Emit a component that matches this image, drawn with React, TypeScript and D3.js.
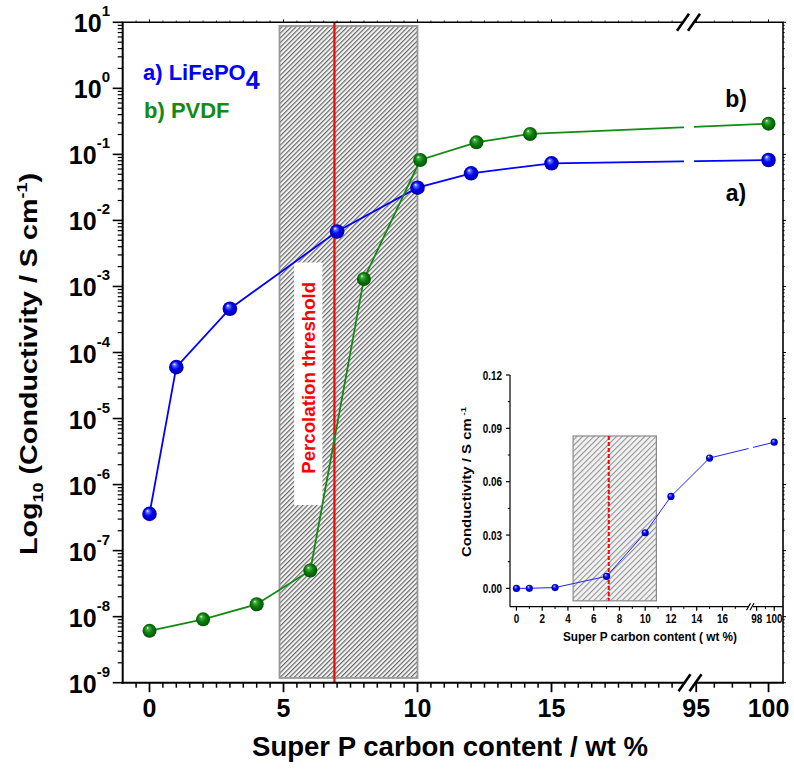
import React from 'react';
import * as d3 from 'd3';

// ---------- data ----------
const lifepoX = [0, 1, 3, 7, 10, 12, 15, 100];
const lifepoY = [3.6e-7, 6.0e-5, 4.6e-4, 6.8e-3, 0.0313, 0.0517, 0.0733, 0.0822];
const pvdfX = [0, 2, 4, 6, 8, 10.1, 12.2, 14.2, 100];
const pvdfY = [6.1e-9, 9.1e-9, 1.54e-8, 5.0e-8, 1.3e-3, 0.0822, 0.152, 0.204, 0.292];

const mainXTicks = [0, 5, 10, 15, 95, 100];
const mainYExps = [1, 0, -1, -2, -3, -4, -5, -6, -7, -8, -9];
const insetXTicks = [0, 2, 4, 6, 8, 10, 12, 14, 16, 98, 100];
const insetYTicks = [0, 0.03, 0.06, 0.09, 0.12];
const insetYTickLabels = ['0.00', '0.03', '0.06', '0.09', '0.12'];

const percRegionMainX = [4.85, 10];
const percRegionMainY = [1.18e-9, 8.8];
const percThresholdMain = 6.9;
const percLabelBoxX = [5.4, 6.45];
const percLabelBoxY = [4.9e-7, 2.3e-3];
const percRegionInsetX = [4.4, 10.87];
const percRegionInsetY = [-0.007, 0.0857];
const percThresholdInset = 7.17;

const FONT = "'Liberation Sans', Arial, sans-serif";

// ---------- scales ----------
const L = 122.7, R = 783, T = 22.3, B = 682.7;
const xs1 = d3.scaleLinear().domain([-1, 20]).range([L, 685.5]);
const xs2 = d3.scaleLinear().domain([94.5, 101]).range([689, R]);
const xm = (v: number) => (v < 50 ? xs1(v) : xs2(v));
const ym = d3.scaleLog().domain([1e-9, 10]).range([B, T]);
const BRK = 688.5;

const IL = 510, IB = 606.7, IT = 375;
const xi1 = d3.scaleLinear().domain([-0.5, 18]).range([IL, 748.2]);
const xi2 = d3.scaleLinear().domain([97.3, 101]).range([750.5, R]);
const xi = (v: number) => (v < 50 ? xi1(v) : xi2(v));
const yi = d3.scaleLinear().domain([-0.0103, 0.12]).range([IB, IT]);
const IBRK = 750.5;

const lifepo = lifepoX.map((x, i) => ({ x, y: lifepoY[i] }));
const pvdf = pvdfX.map((x, i) => ({ x, y: pvdfY[i] }));

const lineMain = d3.line<{ x: number; y: number }>().x(d => xm(d.x)).y(d => ym(d.y));
const lineInset = d3.line<{ x: number; y: number }>().x(d => xi(d.x)).y(d => yi(d.y));

const minorX1 = d3.range(-0.5, 20, 0.5).filter(v => !mainXTicks.includes(v));
const minorX2 = d3.range(95, 101, 1.25).filter(v => !mainXTicks.includes(v) && v > 94.5);
const minorY: number[] = [];
for (let e = -9; e < 1; e++) for (let k = 2; k <= 9; k++) minorY.push(k * Math.pow(10, e));

const insetMinorX = [1, 3, 5, 7, 9, 11, 13, 15, 17, 99];
const insetMinorY = [0.015, 0.045, 0.075, 0.105];

const narrowLen = (s: string) => s.replace(/[^0-9]/g, '').length * 5.5 + s.replace(/[0-9]/g, '').length * 2.8;

export default function App() {
  const breakMarks = (x: number, y: number, dx: number, dy: number, sw: number) => (
    <g>
      <line x1={x - 4.5} y1={y - 1} x2={x + 4.5} y2={y + 1} stroke="#fff" strokeWidth={6} />
      <line x1={x - 5.5 - dx} y1={y + dy} x2={x - 5.5 + dx} y2={y - dy} stroke="#000" strokeWidth={sw} />
      <line x1={x + 5.5 - dx} y1={y + dy} x2={x + 5.5 + dx} y2={y - dy} stroke="#000" strokeWidth={sw} />
    </g>
  );
  return (
    <svg width={794} height={771} style={{ position: 'absolute', left: 0, top: 0, background: '#fff' }}
      fontFamily={FONT}>
      <defs>
        <pattern id="hatchMain" patternUnits="userSpaceOnUse" width={3.3} height={3.3} patternTransform="rotate(45)">
          <rect width={3.3} height={3.3} fill="#f4f4f4" />
          <line x1={0.6} y1={0} x2={0.6} y2={3.3} stroke="#5e5e5e" strokeWidth={1.1} />
        </pattern>
        <pattern id="hatchInset" patternUnits="userSpaceOnUse" width={4} height={4} patternTransform="rotate(45)">
          <rect width={4} height={4} fill="#f2f2f2" />
          <line x1={0.6} y1={0} x2={0.6} y2={4} stroke="#8a8a8a" strokeWidth={1} />
        </pattern>
        <radialGradient id="ballBlue" cx="50%" cy="50%" r="55%" fx="35%" fy="28%">
          <stop offset="0%" stopColor="#ffffff" />
          <stop offset="18%" stopColor="#6070ff" />
          <stop offset="50%" stopColor="#0000f0" />
          <stop offset="100%" stopColor="#00009a" />
        </radialGradient>
        <radialGradient id="ballGreen" cx="50%" cy="50%" r="55%" fx="35%" fy="28%">
          <stop offset="0%" stopColor="#f0fff0" />
          <stop offset="18%" stopColor="#4aae4a" />
          <stop offset="50%" stopColor="#0b820b" />
          <stop offset="100%" stopColor="#034a03" />
        </radialGradient>
        <clipPath id="gapMain">
          <rect x={0} y={0} width={BRK - 4.5} height={771} />
          <rect x={BRK + 5.5} y={0} width={794} height={771} />
        </clipPath>
        <clipPath id="gapInset">
          <rect x={0} y={0} width={IBRK - 2} height={771} />
          <rect x={IBRK + 2.5} y={0} width={794} height={771} />
        </clipPath>
      </defs>

      {/* percolation region */}
      <rect x={xm(percRegionMainX[0])} y={ym(percRegionMainY[1])}
        width={xm(percRegionMainX[1]) - xm(percRegionMainX[0])}
        height={ym(percRegionMainY[0]) - ym(percRegionMainY[1])}
        fill="url(#hatchMain)" stroke="#999" strokeWidth={1.8} />
      <rect x={xm(percLabelBoxX[0])} y={ym(percLabelBoxY[1])}
        width={xm(percLabelBoxX[1]) - xm(percLabelBoxX[0])}
        height={ym(percLabelBoxY[0]) - ym(percLabelBoxY[1])} fill="#fff" />
      <line x1={xm(percThresholdMain)} x2={xm(percThresholdMain)} y1={T} y2={B} stroke="#ff0000" strokeWidth={2.2} />
      <text transform={`translate(${(xm(percLabelBoxX[0]) + xm(percLabelBoxX[1])) / 2 + 7},${(ym(percLabelBoxY[0]) + ym(percLabelBoxY[1])) / 2 - 6}) rotate(-90)`}
        textAnchor="middle" fontSize={18.6} fontWeight="bold" fill="#ff0000"
        textLength={192} lengthAdjust="spacingAndGlyphs">Percolation threshold</text>

      {/* series lines */}
      <g clipPath="url(#gapMain)">
        <path d={lineMain(lifepo) || ''} fill="none" stroke="#0000ff" strokeWidth={1.8} />
        <path d={lineMain(pvdf) || ''} fill="none" stroke="#138a13" strokeWidth={1.8} />
      </g>
      {lifepo.map((d, i) => (
        <circle key={'b' + i} cx={xm(d.x)} cy={ym(d.y)} r={7.3} fill="url(#ballBlue)" />
      ))}
      {pvdf.map((d, i) => (
        <circle key={'g' + i} cx={xm(d.x)} cy={ym(d.y)} r={7} fill="url(#ballGreen)" />
      ))}

      {/* frame */}
      <line x1={L} y1={T} x2={L} y2={B + 1} stroke="#000" strokeWidth={2} />
      <line x1={L - 1} y1={B} x2={R + 1} y2={B} stroke="#000" strokeWidth={2} />
      <line x1={L - 1} y1={T} x2={R + 0.8} y2={T} stroke="#000" strokeWidth={1.6} />
      <line x1={R} y1={T} x2={R} y2={B} stroke="#000" strokeWidth={1.6} />

      {/* y ticks */}
      {mainYExps.map(e => (
        <g key={'yt' + e}>
          <line x1={L - 10} x2={L} y1={ym(Math.pow(10, e))} y2={ym(Math.pow(10, e))} stroke="#000" strokeWidth={1.6} />
          <line x1={R} x2={R + 3} y1={ym(Math.pow(10, e))} y2={ym(Math.pow(10, e))} stroke="#000" strokeWidth={1} />
          <text x={110} y={ym(Math.pow(10, e)) + 10} textAnchor="end" fontSize={25} fontWeight="bold">
            10<tspan fontSize={15} dy={-16}>{e < 0 ? '-' + Math.abs(e) : String(e)}</tspan>
          </text>
        </g>
      ))}
      {minorY.map((v, i) => (
        <g key={'ym' + i}>
          <line x1={L - 5} x2={L} y1={ym(v)} y2={ym(v)} stroke="#000" strokeWidth={1.2} />
          <line x1={R} x2={R + 1.8} y1={ym(v)} y2={ym(v)} stroke="#000" strokeWidth={0.8} />
        </g>
      ))}

      {/* x ticks */}
      {mainXTicks.map(v => (
        <g key={'xt' + v}>
          <line x1={xm(v)} x2={xm(v)} y1={B} y2={B + 9.5} stroke="#000" strokeWidth={1.8} />
          <line x1={xm(v)} x2={xm(v)} y1={T} y2={T - 3} stroke="#000" strokeWidth={1} />
          <text x={xm(v)} y={717} textAnchor="middle" fontSize={25} fontWeight="bold">{v}</text>
        </g>
      ))}
      {[...minorX1, ...minorX2].map((v, i) => (
        <g key={'xm' + i}>
          <line x1={xm(v)} x2={xm(v)} y1={B} y2={B + 5} stroke="#000" strokeWidth={1.5} />
          <line x1={xm(v)} x2={xm(v)} y1={T} y2={T - 1.8} stroke="#000" strokeWidth={0.8} />
        </g>
      ))}

      {/* axis breaks */}
      {breakMarks(BRK, T, 6, 8.5, 2.6)}
      {breakMarks(BRK + 1.5, B, 6, 8.5, 2.6)}

      {/* axis titles */}
      <text transform="translate(37,364) rotate(-90)" textAnchor="middle" fontSize={24} fontWeight="bold"
        textLength={382} lengthAdjust="spacingAndGlyphs">
        Log<tspan fontSize={15} dy={6}>10</tspan><tspan dy={-6}> (Conductivity / S cm</tspan><tspan fontSize={15} dy={-10}>-1</tspan><tspan dy={10}>)</tspan>
      </text>
      <text x={450} y={756} textAnchor="middle" fontSize={27} fontWeight="bold"
        textLength={396} lengthAdjust="spacingAndGlyphs">Super P carbon content  / wt %</text>

      {/* legend */}
      <text x={143} y={80} fontSize={22} fontWeight="bold" fill="#0000ff">
        a) LiFePO<tspan fontSize={25} dy={9}>4</tspan>
      </text>
      <text x={144} y={118} fontSize={22} fontWeight="bold" fill="#138a13">b) PVDF</text>
      <text x={736} y={107} textAnchor="middle" fontSize={23} fontWeight="bold">b)</text>
      <text x={736} y={201} textAnchor="middle" fontSize={23} fontWeight="bold">a)</text>

      {/* ---------- inset ---------- */}
      <rect x={xi(percRegionInsetX[0])} y={yi(percRegionInsetY[1])}
        width={xi(percRegionInsetX[1]) - xi(percRegionInsetX[0])}
        height={yi(percRegionInsetY[0]) - yi(percRegionInsetY[1])}
        fill="url(#hatchInset)" stroke="#8a8a8a" strokeWidth={1.2} />
      <line x1={xi(percThresholdInset)} x2={xi(percThresholdInset)}
        y1={yi(percRegionInsetY[1])} y2={yi(percRegionInsetY[0])}
        stroke="#ff0000" strokeWidth={2} strokeDasharray="4,2" />
      <g clipPath="url(#gapInset)">
        <path d={lineInset(lifepo) || ''} fill="none" stroke="#2020ff" strokeWidth={1} />
      </g>
      {lifepo.map((d, i) => (
        <circle key={'ib' + i} cx={xi(d.x)} cy={yi(d.y)} r={3.6} fill="url(#ballBlue)" />
      ))}
      <line x1={IL} y1={IT} x2={IL} y2={IB} stroke="#000" strokeWidth={1.2} />
      <line x1={IL} y1={IB} x2={R} y2={IB} stroke="#000" strokeWidth={1.2} />
      {insetYTicks.map((v, i) => (
        <g key={'iyt' + i}>
          <line x1={IL - 4} x2={IL} y1={yi(v)} y2={yi(v)} stroke="#000" strokeWidth={1.2} />
          <text x={502} y={yi(v) + 4.5} textAnchor="end" fontSize={12.5} fontWeight="bold"
            textLength={narrowLen(insetYTickLabels[i])} lengthAdjust="spacingAndGlyphs">{insetYTickLabels[i]}</text>
        </g>
      ))}
      {insetMinorY.map((v, i) => (
        <line key={'iym' + i} x1={IL - 2.2} x2={IL} y1={yi(v)} y2={yi(v)} stroke="#000" strokeWidth={1} />
      ))}
      {insetXTicks.map(v => (
        <g key={'ixt' + v}>
          <line x1={xi(v)} x2={xi(v)} y1={IB} y2={IB + 4} stroke="#000" strokeWidth={1.2} />
          <text x={xi(v)} y={623} textAnchor="middle" fontSize={12.5} fontWeight="bold"
            textLength={narrowLen(String(v))} lengthAdjust="spacingAndGlyphs">{v}</text>
        </g>
      ))}
      {insetMinorX.map(v => (
        <line key={'ixm' + v} x1={xi(v)} x2={xi(v)} y1={IB} y2={IB + 2.2} stroke="#000" strokeWidth={1} />
      ))}
      <g>
        <line x1={IBRK - 2} y1={IB} x2={IBRK + 2.5} y2={IB} stroke="#fff" strokeWidth={3} />
        <line x1={IBRK - 4} y1={IB + 3.5} x2={IBRK} y2={IB - 3.5} stroke="#000" strokeWidth={1.2} />
        <line x1={IBRK - 0.5} y1={IB + 3.5} x2={IBRK + 3.5} y2={IB - 3.5} stroke="#000" strokeWidth={1.2} />
      </g>
      <text transform="translate(471,482) rotate(-90)" textAnchor="middle" fontSize={12.5} fontWeight="bold"
        textLength={150} lengthAdjust="spacingAndGlyphs">
        Conductivity / S cm<tspan fontSize={8} dy={-5}> -1</tspan>
      </text>
      <text x={650} y={641} textAnchor="middle" fontSize={12.5} fontWeight="bold"
        textLength={174} lengthAdjust="spacingAndGlyphs">Super P carbon content ( wt %)</text>
    </svg>
  );
}
